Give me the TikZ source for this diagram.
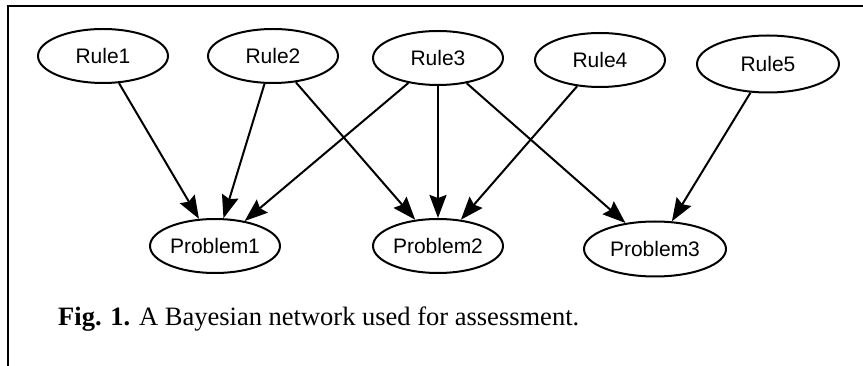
\documentclass[tikz,border=0pt]{standalone}
\usepackage{fontspec}
\setmainfont{Liberation Serif}
\newfontfamily\netfont{Liberation Sans}
\usetikzlibrary{shapes.geometric, arrows.meta}

\begin{document}
\begin{tikzpicture}[x=1pt, y=-1pt,
    var/.style={draw, ellipse, line width=2pt, inner sep=0pt,
        minimum width=130pt, minimum height=54pt,
        font=\netfont\fontsize{21}{25}\selectfont},
    wide/.style={minimum width=142pt, minimum height=57pt},
    link/.style={line width=2pt, -{Stealth[length=23pt, width=17pt, inset=3pt]}}]

    \useasboundingbox (0,0) rectangle (863,366);

    % frame
    \draw[line width=2pt] (8,366) -- (8,6) -- (863,6);

    % rules
    \node[var] (r1) at (103,56) {Rule1};
    \node[var] (r2) at (273,56) {Rule2};
    \node[var] (r3) at (438,58) {Rule3};
    \node[var] (r4) at (600,60) {Rule4};
    \node[var, wide] (r5) at (768,64) {Rule5};

    % problems
    \node[var] (p1) at (215,246) {Problem1};
    \node[var] (p2) at (438,246) {Problem2};
    \node[var, wide, minimum height=55pt] (p3) at (655,249) {Problem3};

    \draw[link] (r1) -- (p1);
    \draw[link] (r2) -- (p1);
    \draw[link] (r2) -- (p2);
    \draw[link] (r3) -- (p1);
    \draw[link] (r3) -- (p2);
    \draw[link] (r3) -- (p3);
    \draw[link] (r4) -- (p2);
    \draw[link] (r5) -- (p3);

    \node[anchor=base west, inner sep=0pt, font=\fontsize{26.5}{30}\selectfont]
        (cap) at (58,326) {\textbf{Fig. 1.} A Bayesian network used for assessment.};

\end{tikzpicture}
\end{document}
